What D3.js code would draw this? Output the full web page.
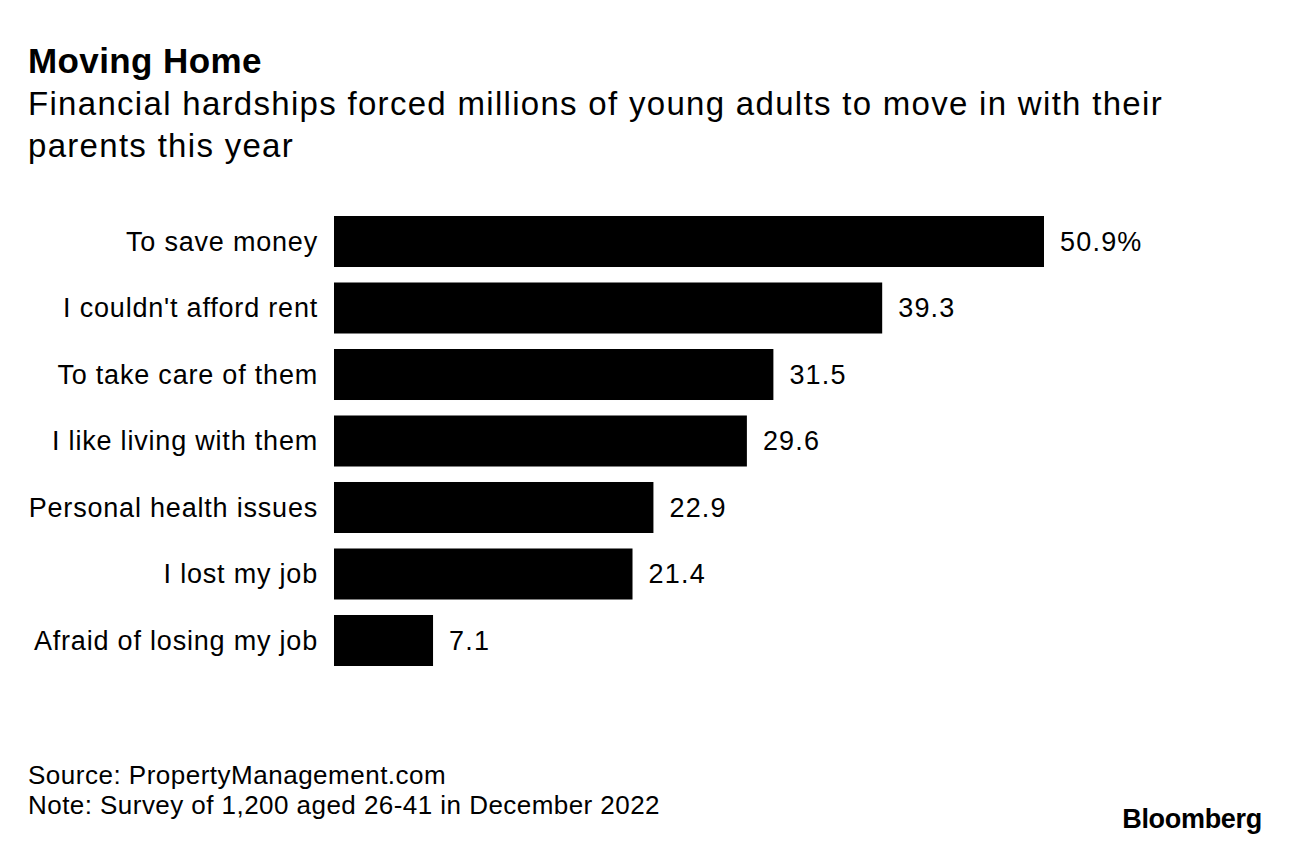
<!DOCTYPE html>
<html>
<head>
<meta charset="utf-8">
<script src="https://cdn.jsdelivr.net/npm/d3@7"></script>
<style>
  body { margin: 0; background: #fff; }
  text { font-family: "Liberation Sans", Arial, sans-serif; fill: #000; }
</style>
</head>
<body>
<svg id="chart" width="1289" height="844"></svg>
<script>
// chart data
const categories = [
  "To save money",
  "I couldn't afford rent",
  "To take care of them",
  "I like living with them",
  "Personal health issues",
  "I lost my job",
  "Afraid of losing my job"
];
const values = [50.9, 39.3, 31.5, 29.6, 22.9, 21.4, 7.1];
const valueLabels = ["50.9%", "39.3", "31.5", "29.6", "22.9", "21.4", "7.1"];

const svg = d3.select("#chart");

// title block
svg.append("text").attr("x", 28).attr("y", 73)
  .attr("font-size", 35).attr("font-weight", 700).attr("letter-spacing", 0.4)
  .text("Moving Home");
svg.append("text").attr("x", 28).attr("y", 115)
  .attr("font-size", 33).attr("letter-spacing", 1.3)
  .text("Financial hardships forced millions of young adults to move in with their");
svg.append("text").attr("x", 28).attr("y", 157)
  .attr("font-size", 33).attr("letter-spacing", 1.3)
  .text("parents this year");

// scales
const x = d3.scaleLinear().domain([0, 50.9]).range([334, 1044]);
const y = d3.scaleBand().domain(categories).range([216, 666]).paddingInner(0.233).paddingOuter(0);

const g = svg.append("g");

g.selectAll("rect").data(values).enter().append("rect")
  .attr("x", x(0))
  .attr("y", (d, i) => y(categories[i]))
  .attr("width", d => x(d) - x(0))
  .attr("height", y.bandwidth())
  .attr("fill", "#000");

g.selectAll(".cat").data(categories).enter().append("text")
  .attr("class", "cat")
  .attr("x", 318)
  .attr("y", d => y(d) + y.bandwidth() / 2)
  .attr("dy", "0.35em")
  .attr("text-anchor", "end")
  .attr("font-size", 27)
  .attr("letter-spacing", 0.8)
  .text(d => d);

g.selectAll(".val").data(values).enter().append("text")
  .attr("class", "val")
  .attr("x", d => x(d) + 16)
  .attr("y", (d, i) => y(categories[i]) + y.bandwidth() / 2)
  .attr("dy", "0.35em")
  .attr("font-size", 27)
  .attr("letter-spacing", 1.2)
  .text((d, i) => valueLabels[i]);

// footer
svg.append("text").attr("x", 28).attr("y", 784)
  .attr("font-size", 26).attr("letter-spacing", 0.5)
  .text("Source: PropertyManagement.com");
svg.append("text").attr("x", 28).attr("y", 814)
  .attr("font-size", 26).attr("letter-spacing", 0.45)
  .text("Note: Survey of 1,200 aged 26-41 in December 2022");
svg.append("text").attr("x", 1262).attr("y", 828)
  .attr("text-anchor", "end")
  .attr("font-size", 27).attr("font-weight", 700).attr("letter-spacing", -0.3)
  .text("Bloomberg");
</script>
</body>
</html>
